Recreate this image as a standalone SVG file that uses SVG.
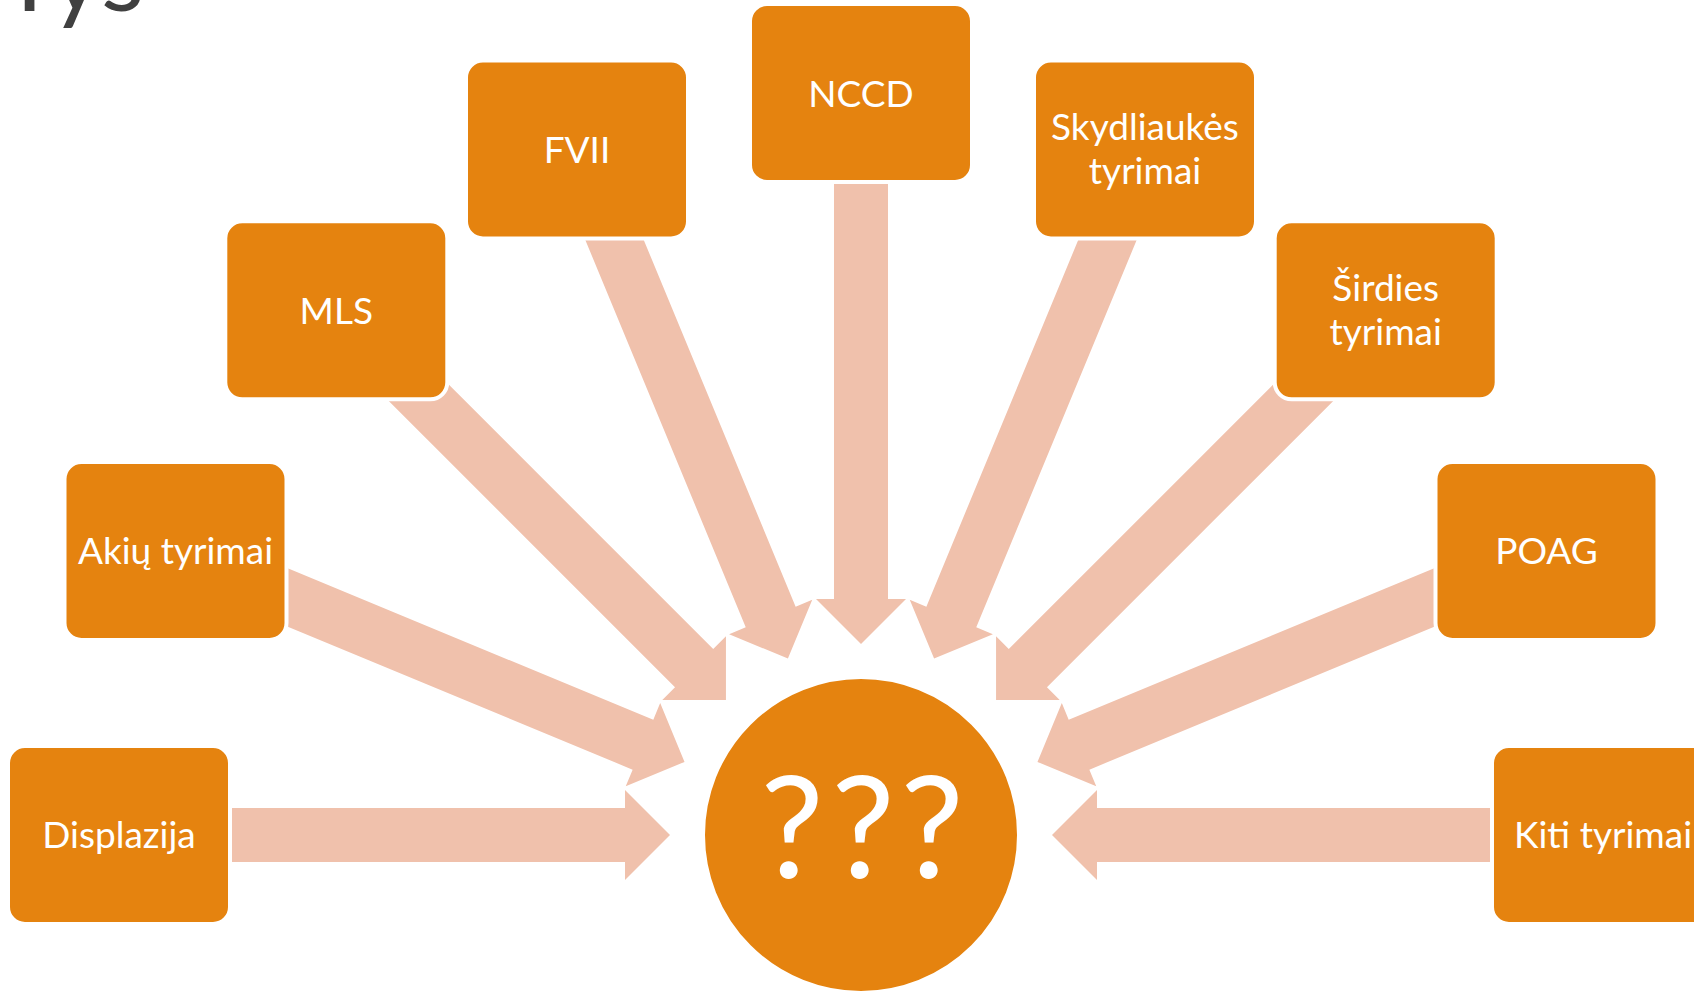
<svg xmlns="http://www.w3.org/2000/svg" xmlns:xlink="http://www.w3.org/1999/xlink" width="1694" height="993" viewBox="0 0 1694 993">
  <style>
    .box { fill: #E5830F; stroke: #FFFFFF; stroke-width: 4; }
    .lbl { font-family: Lato, "Open Sans", "Liberation Sans", sans-serif; font-size: 37px; fill: #FFFFFF; text-anchor: middle; }
    .arrow { fill: #F0C1AC; }
    .title { font-family: Lato, "Liberation Sans", sans-serif; font-size: 100px; fill: #404040; }
    .q { font-family: Lato, "Liberation Sans", sans-serif; font-size: 142px; fill: #FFFFFF; text-anchor: middle; }
  </style>
  <defs>
    <polygon id="arr" points="-742,-27 -236,-27 -236,-45 -191,0 -236,45 -236,27 -742,27"/>
  </defs>
  <rect width="1694" height="993" fill="#FFFFFF"/>
  <text class="title" x="0" y="11">Tys</text>

  <g id="connectors" class="arrow">
    <use xlink:href="#arr" href="#arr" transform="translate(861 835) rotate(0)"/>
    <use xlink:href="#arr" href="#arr" transform="translate(861 835) rotate(22.5)"/>
    <use xlink:href="#arr" href="#arr" transform="translate(861 835) rotate(45)"/>
    <use xlink:href="#arr" href="#arr" transform="translate(861 835) rotate(67.5)"/>
    <use xlink:href="#arr" href="#arr" transform="translate(861 835) rotate(90)"/>
    <use xlink:href="#arr" href="#arr" transform="translate(861 835) rotate(112.5)"/>
    <use xlink:href="#arr" href="#arr" transform="translate(861 835) rotate(135)"/>
    <use xlink:href="#arr" href="#arr" transform="translate(861 835) rotate(157.5)"/>
    <use xlink:href="#arr" href="#arr" transform="translate(861 835) rotate(180)"/>
  </g>

  <g id="center">
    <circle cx="861" cy="835" r="158" class="box"/>
    <text class="q" x="792 863 932" y="878">???</text>
  </g>

  <g id="displazija">
    <rect class="box" x="8" y="746" width="222" height="178" rx="17"/>
    <text class="lbl" x="119" y="848">Displazija</text>
  </g>
  <g id="akiu">
    <rect class="box" x="64.5" y="462" width="222" height="178" rx="17"/>
    <text class="lbl" x="175.5" y="564">Akių tyrimai</text>
  </g>
  <g id="mls">
    <rect class="box" x="225.3" y="221.3" width="222" height="178" rx="17"/>
    <text class="lbl" x="336.3" y="324">MLS</text>
  </g>
  <g id="fvii">
    <rect class="box" x="466" y="60.5" width="222" height="178" rx="17"/>
    <text class="lbl" x="577" y="163">FVII</text>
  </g>
  <g id="nccd">
    <rect class="box" x="750" y="4" width="222" height="178" rx="17"/>
    <text class="lbl" x="861" y="107">NCCD</text>
  </g>
  <g id="skydliaukes">
    <rect class="box" x="1034" y="60.5" width="222" height="178" rx="17"/>
    <text class="lbl" x="1145" y="140">Skydliaukės</text>
    <text class="lbl" x="1145" y="184">tyrimai</text>
  </g>
  <g id="sirdies">
    <rect class="box" x="1274.7" y="221.3" width="222" height="178" rx="17"/>
    <text class="lbl" x="1385.7" y="301">Širdies</text>
    <text class="lbl" x="1385.7" y="345">tyrimai</text>
  </g>
  <g id="poag">
    <rect class="box" x="1435.5" y="462" width="222" height="178" rx="17"/>
    <text class="lbl" x="1546.5" y="564">POAG</text>
  </g>
  <g id="kiti">
    <rect class="box" x="1492" y="746" width="222" height="178" rx="17"/>
    <text class="lbl" x="1603" y="848">Kiti tyrimai</text>
  </g>
</svg>
